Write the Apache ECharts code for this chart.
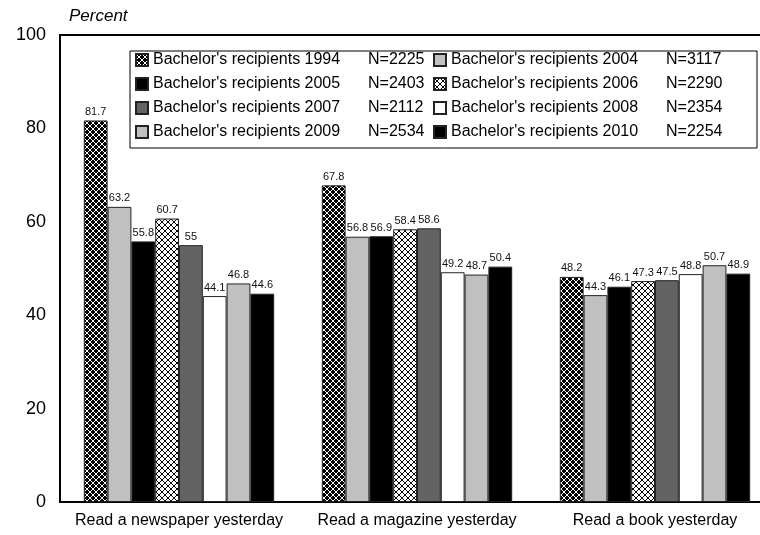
<!DOCTYPE html>
<html>
<head>
<meta charset="utf-8">
<script src="https://cdn.jsdelivr.net/npm/echarts@6/dist/echarts.min.js"></script>
<style>
html,body{margin:0;padding:0;background:#fff;}
#chart{width:760px;height:535px;}
</style>
</head>
<body>
<div id="chart"></div>
<script>
var categories = ["Read a newspaper yesterday", "Read a magazine yesterday", "Read a book yesterday"];
var seriesNames = ["Bachelor's recipients 1994", "Bachelor's recipients 2004", "Bachelor's recipients 2005", "Bachelor's recipients 2006", "Bachelor's recipients 2007", "Bachelor's recipients 2008", "Bachelor's recipients 2009", "Bachelor's recipients 2010"];
var nValues = [2225, 3117, 2403, 2290, 2112, 2354, 2534, 2254];
var v1994 = [81.7, 67.8, 48.2];
var v2004 = [63.2, 56.8, 44.3];
var v2005 = [55.8, 56.9, 46.1];
var v2006 = [60.7, 58.4, 47.3];
var v2007 = [55, 58.6, 47.5];
var v2008 = [44.1, 49.2, 48.8];
var v2009 = [46.8, 48.7, 50.7];
var v2010 = [44.6, 50.4, 48.9];
var yTicks = [0, 20, 40, 60, 80, 100];

function makePattern(bg, fg, size, lw) {
  var c = document.createElement('canvas');
  c.width = size; c.height = size;
  var ctx = c.getContext('2d');
  ctx.fillStyle = bg; ctx.fillRect(0, 0, size, size);
  ctx.strokeStyle = fg; ctx.lineWidth = lw;
  ctx.beginPath();
  ctx.moveTo(0, 0); ctx.lineTo(size, size);
  ctx.moveTo(size, 0); ctx.lineTo(0, size);
  ctx.stroke();
  return {image: c, repeat: 'repeat'};
}

var fills = [
  makePattern('#000000', '#ffffff', 6, 1),
  '#c0c0c0',
  '#000000',
  makePattern('#ffffff', '#000000', 6, 1),
  '#636363',
  '#ffffff',
  '#c0c0c0',
  '#000000'
];
var allValues = [v1994, v2004, v2005, v2006, v2007, v2008, v2009, v2010];

var series = seriesNames.map(function (name, i) {
  return {
    name: name,
    type: 'bar',
    data: allValues[i],
    barGap: '0%',
    barCategoryGap: '20%',
    itemStyle: {color: fills[i], borderColor: '#222', borderWidth: 1},
    label: {show: true, position: 'top', distance: 3, fontSize: 11, color: '#111', fontFamily: 'Liberation Sans, Arial, sans-serif'}
  };
});

var chart = echarts.init(document.getElementById('chart'), null, {renderer: 'canvas'});
chart.setOption({
  animation: false,
  backgroundColor: '#fff',
  textStyle: {fontFamily: 'Liberation Sans, Arial, sans-serif'},
  title: {
    text: 'Percent', left: 64, top: 3,
    textStyle: {fontSize: 17, fontStyle: 'italic', fontWeight: 'normal', color: '#000', fontFamily: 'Liberation Sans, Arial, sans-serif'}
  },
  grid: {left: 60, top: 35, right: -14, bottom: 33, containLabel: false, outerBoundsMode: 'none', show: true, borderColor: '#000', borderWidth: 2, backgroundColor: 'transparent'},
  legend: {
    left: 130, top: 51, width: 600,
    orient: 'horizontal',
    padding: [1, 34, 8, 5],
    itemGap: 8,
    itemWidth: 12, itemHeight: 12,
    icon: 'rect',
    backgroundColor: '#fff',
    borderColor: '#000', borderWidth: 1,
    data: seriesNames,
    formatter: function (name) {
      var i = seriesNames.indexOf(name);
      return '{a|' + name + '}{b|N=' + nValues[i] + '}';
    },
    textStyle: {
      color: '#000', fontSize: 16, lineHeight: 14,
      rich: {
        a: {width: 215, fontSize: 16, lineHeight: 14, color: '#000'},
        b: {width: 57, fontSize: 16, lineHeight: 14, color: '#000'}
      }
    }
  },
  xAxis: {
    type: 'category', data: categories,
    axisLine: {show: true, lineStyle: {color: '#000', width: 2}},
    axisTick: {show: false},
    axisLabel: {fontSize: 16, color: '#000', margin: 11, interval: 0}
  },
  yAxis: {
    type: 'value', min: yTicks[0], max: yTicks[yTicks.length - 1], interval: 20,
    axisLine: {show: true, lineStyle: {color: '#000', width: 2}},
    axisTick: {show: false},
    splitLine: {show: false},
    axisLabel: {fontSize: 18, color: '#000', margin: 14}
  },
  series: series
});
</script>
</body>
</html>
